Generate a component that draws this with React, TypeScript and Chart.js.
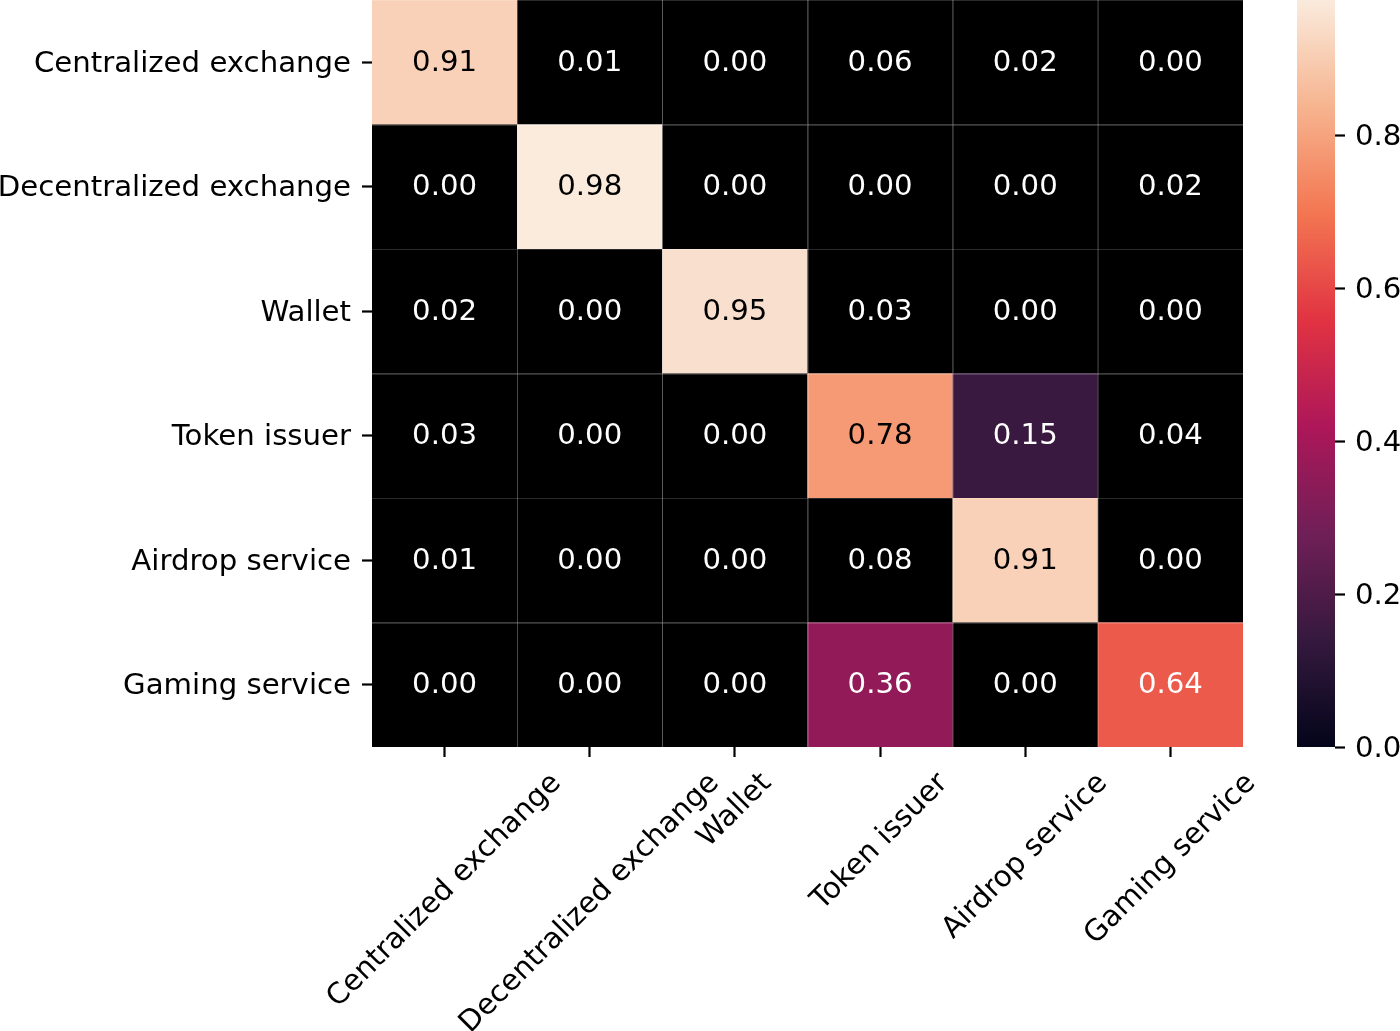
import React, { useEffect, useRef } from "react";
import { Chart, registerables } from "chart.js";

Chart.register(...registerables);

// ---------- data ----------
const rowLabels = [
  "Centralized exchange",
  "Decentralized exchange",
  "Wallet",
  "Token issuer",
  "Airdrop service",
  "Gaming service",
];
const colLabels = [
  "Centralized exchange",
  "Decentralized exchange",
  "Wallet",
  "Token issuer",
  "Airdrop service",
  "Gaming service",
];
const rowCentralized = [0.91, 0.01, 0.0, 0.06, 0.02, 0.0];
const rowDecentralized = [0.0, 0.98, 0.0, 0.0, 0.0, 0.02];
const rowWallet = [0.02, 0.0, 0.95, 0.03, 0.0, 0.0];
const rowToken = [0.03, 0.0, 0.0, 0.78, 0.15, 0.04];
const rowAirdrop = [0.01, 0.0, 0.0, 0.08, 0.91, 0.0];
const rowGaming = [0.0, 0.0, 0.0, 0.36, 0.0, 0.64];
const matrixRows = [rowCentralized, rowDecentralized, rowWallet, rowToken, rowAirdrop, rowGaming];

const colorbarTicks = [0.0, 0.2, 0.4, 0.6, 0.8];
const COLOR_MIN = 0;
const COLOR_MAX = 0.977;
const MASK_BELOW = 0.1; // cells below this are shown black

// rocket colormap anchors
const rocketPos = [0, 1 / 7, 2 / 7, 3 / 7, 4 / 7, 5 / 7, 6 / 7, 1];
const rocketRGB: number[][] = [
  [3, 5, 26],
  [53, 25, 62],
  [112, 31, 87],
  [173, 23, 89],
  [225, 51, 66],
  [243, 118, 81],
  [246, 180, 143],
  [250, 235, 221],
];

const FONT = "'DejaVu Sans', sans-serif";
const FS = 29.2;

function rocket(t: number): number[] {
  const u = Math.max(0, Math.min(1, t));
  for (let i = 0; i < rocketPos.length - 1; i++) {
    if (u <= rocketPos[i + 1]) {
      const f = (u - rocketPos[i]) / (rocketPos[i + 1] - rocketPos[i]);
      return rocketRGB[i].map((c, k) => c + (rocketRGB[i + 1][k] - c) * f);
    }
  }
  return rocketRGB[rocketRGB.length - 1];
}

function cellRGB(v: number): number[] {
  if (v < MASK_BELOW) return [0, 0, 0];
  return rocket((v - COLOR_MIN) / (COLOR_MAX - COLOR_MIN));
}

function luminance(rgb: number[]): number {
  const lin = rgb.map((c) => {
    const s = c / 255;
    return s <= 0.03928 ? s / 12.92 : Math.pow((s + 0.055) / 1.055, 2.4);
  });
  return 0.2126 * lin[0] + 0.7152 * lin[1] + 0.0722 * lin[2];
}

const rgbStr = (c: number[]) => `rgb(${Math.round(c[0])},${Math.round(c[1])},${Math.round(c[2])})`;

const heatmapPlugin = {
  id: "heatmapCells",
  beforeDatasetsDraw(chart: any) {
    const ctx = chart.ctx;
    const xs = chart.scales.x;
    const ys = chart.scales.y;
    const data = chart.data.datasets[0].data as any[];
    ctx.save();
    data.forEach((d) => {
      const x0 = xs.getPixelForValue(d.x - 0.5);
      const x1 = xs.getPixelForValue(d.x + 0.5);
      const y0 = ys.getPixelForValue(d.y - 0.5);
      const y1 = ys.getPixelForValue(d.y + 0.5);
      ctx.fillStyle = rgbStr(cellRGB(d.v));
      ctx.fillRect(Math.min(x0, x1), Math.min(y0, y1), Math.abs(x1 - x0), Math.abs(y1 - y0));
    });
    // faint seams between cells (background showing through antialiased edges)
    ctx.strokeStyle = "rgba(255,255,255,0.17)";
    ctx.lineWidth = 1;
    for (let j = 1; j < colLabels.length; j++) {
      const x = Math.round(xs.getPixelForValue(j)) + 0.5;
      ctx.beginPath();
      ctx.moveTo(x, chart.chartArea.top);
      ctx.lineTo(x, chart.chartArea.bottom);
      ctx.stroke();
    }
    for (let i = 0; i <= rowLabels.length - 1; i++) {
      const y = Math.round(ys.getPixelForValue(i)) + 0.5;
      ctx.beginPath();
      ctx.moveTo(chart.chartArea.left, y);
      ctx.lineTo(chart.chartArea.right, y);
      ctx.stroke();
    }
    // annotations
    ctx.font = `${FS}px ${FONT}`;
    ctx.textAlign = "center";
    ctx.textBaseline = "alphabetic";
    data.forEach((d) => {
      const cx = xs.getPixelForValue(d.x);
      const cy = ys.getPixelForValue(d.y);
      ctx.fillStyle = luminance(cellRGB(d.v)) > 0.408 ? "#000000" : "#ffffff";
      ctx.fillText(d.v.toFixed(2), cx, cy + 8.5);
    });
    ctx.restore();
  },
  afterDraw(chart: any) {
    const ctx = chart.ctx;
    const xs = chart.scales.x;
    const top = chart.chartArea.bottom + 10 + 9.7;
    const H = FS * 1.164;
    ctx.save();
    ctx.font = `${FS}px ${FONT}`;
    ctx.fillStyle = "#000000";
    ctx.textAlign = "center";
    ctx.textBaseline = "middle";
    colLabels.forEach((lab, j) => {
      const w = ctx.measureText(lab).width;
      const side = (w + H) * Math.SQRT1_2;
      const cx = xs.getPixelForValue(j + 0.5);
      const cy = top + side / 2;
      ctx.save();
      ctx.translate(cx, cy);
      ctx.rotate(-Math.PI / 4);
      ctx.fillText(lab, 0, 0);
      ctx.restore();
    });
    ctx.restore();
  },
};

const colorbarPlugin = {
  id: "colorbarGradient",
  beforeDatasetsDraw(chart: any) {
    const ctx = chart.ctx;
    const ys = chart.scales.y;
    const { left, right } = chart.chartArea;
    const yBottom = ys.getPixelForValue(COLOR_MIN);
    const yTop = ys.getPixelForValue(COLOR_MAX);
    const g = ctx.createLinearGradient(0, yBottom, 0, yTop);
    rocketPos.forEach((p, i) => g.addColorStop(p, rgbStr(rocketRGB[i])));
    ctx.save();
    ctx.fillStyle = g;
    ctx.fillRect(left, yTop, right - left, yBottom - yTop);
    ctx.restore();
  },
};

const noPadV = (s: any) => {
  s.paddingTop = 0;
  s.paddingBottom = 0;
};
const noPadH = (s: any) => {
  s.paddingLeft = 0;
  s.paddingRight = 0;
};

export default function App() {
  const mainRef = useRef<HTMLCanvasElement>(null);
  const barRef = useRef<HTMLCanvasElement>(null);

  useEffect(() => {
    Chart.defaults.font.family = FONT;
    const points: any[] = [];
    matrixRows.forEach((row, i) =>
      row.forEach((v, j) => points.push({ x: j + 0.5, y: i + 0.5, v }))
    );

    const main = new Chart(mainRef.current as HTMLCanvasElement, {
      type: "scatter",
      data: {
        datasets: [{ data: points, pointRadius: 0, pointHoverRadius: 0 }],
      },
      plugins: [heatmapPlugin],
      options: {
        responsive: false,
        animation: false,
        events: [],
        layout: { padding: { left: 0, top: 0, right: 157, bottom: 0 } },
        plugins: { legend: { display: false }, tooltip: { enabled: false } },
        scales: {
          x: {
            type: "linear",
            position: "bottom",
            min: 0,
            max: colLabels.length,
            afterBuildTicks: (s: any) => {
              s.ticks = colLabels.map((_, j) => ({ value: j + 0.5 }));
            },
            afterFit: (s: any) => {
              s.height = 1031 - 747;
              noPadH(s);
            },
            ticks: { display: false },
            grid: {
              display: true,
              drawOnChartArea: false,
              drawTicks: true,
              tickLength: 10,
              tickWidth: 2.2,
              tickColor: "#000000",
            },
            border: { display: false },
          },
          y: {
            type: "linear",
            position: "left",
            reverse: true,
            min: 0,
            max: rowLabels.length,
            afterBuildTicks: (s: any) => {
              s.ticks = rowLabels.map((_, i) => ({ value: i + 0.5 }));
            },
            afterFit: (s: any) => {
              s.width = 372;
              noPadV(s);
            },
            ticks: {
              color: "#000000",
              font: { size: FS, family: FONT },
              padding: 11,
              labelOffset: 2,
              autoSkip: false,
              callback: (v: any) => rowLabels[Math.round(Number(v) - 0.5)],
            },
            grid: {
              display: true,
              drawOnChartArea: false,
              drawTicks: true,
              tickLength: 10,
              tickWidth: 2.2,
              tickColor: "#000000",
            },
            border: { display: false },
          },
        },
      },
    } as any);

    const bar = new Chart(barRef.current as HTMLCanvasElement, {
      type: "scatter",
      data: { datasets: [{ data: [], pointRadius: 0 }] },
      plugins: [colorbarPlugin],
      options: {
        responsive: false,
        animation: false,
        events: [],
        layout: { padding: { left: 97, top: 0, right: 0, bottom: 1031 - 747 } },
        plugins: { legend: { display: false }, tooltip: { enabled: false } },
        scales: {
          x: { type: "linear", display: false, min: 0, max: 1 },
          y: {
            type: "linear",
            position: "right",
            min: COLOR_MIN,
            max: COLOR_MAX,
            afterBuildTicks: (s: any) => {
              s.ticks = colorbarTicks.map((v) => ({ value: v }));
            },
            afterFit: (s: any) => {
              s.width = 65;
              noPadV(s);
            },
            ticks: {
              color: "#000000",
              font: { size: FS, family: FONT },
              padding: 10,
              labelOffset: 2,
              callback: (v: any) => Number(v).toFixed(1),
            },
            grid: {
              display: true,
              drawOnChartArea: false,
              drawTicks: true,
              tickLength: 10,
              tickWidth: 2.2,
              tickColor: "#000000",
            },
            border: { display: false },
          },
        },
      },
    } as any);

    return () => {
      main.destroy();
      bar.destroy();
    };
  }, []);

  return (
    <div style={{ position: "fixed", left: 0, top: 0, width: 1400, height: 1031, background: "#ffffff" }}>
      <canvas
        ref={mainRef}
        width={1400}
        height={1031}
        style={{ position: "absolute", left: 0, top: 0, width: 1400, height: 1031 }}
      />
      <canvas
        ref={barRef}
        width={200}
        height={1031}
        style={{ position: "absolute", left: 1200, top: 0, width: 200, height: 1031 }}
      />
    </div>
  );
}
